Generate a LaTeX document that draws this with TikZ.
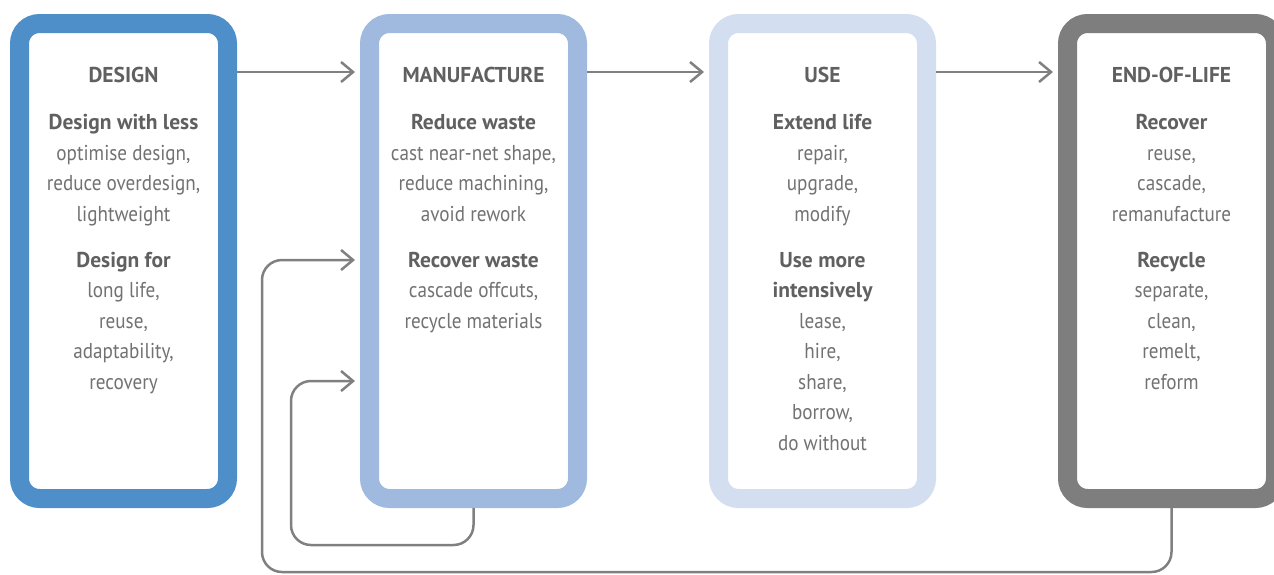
\documentclass[tikz,border=0pt]{standalone}
\usepackage{fontspec}
\setmainfont{PT Sans}
\newfontfamily\bodyf{PT Sans}[FakeStretch=0.89]
\usetikzlibrary{arrows.meta}
\definecolor{cA}{HTML}{4F8FC9}
\definecolor{cB}{HTML}{A0BADF}
\definecolor{cC}{HTML}{D3DFF0}
\definecolor{cD}{HTML}{7E7E7E}
\definecolor{txt}{HTML}{727272}
\definecolor{hd}{HTML}{606060}
\definecolor{ar}{HTML}{808080}
\tikzset{
  stage/.style={draw=#1, line width=19pt, rounded corners=20pt, minimum width=208pt, minimum height=475pt, fill=white, inner sep=0pt},
  label/.style={anchor=north, align=center, text=txt, inner sep=0pt, font=\fontsize{21.5}{30.5}\selectfont\bodyf},
  arr/.style={draw=ar, line width=2.5pt, -{Straight Barb[length=12pt,width=20pt,line width=2.5pt]}},
}
\newcommand{\hdg}[1]{{\normalfont\fontsize{21.5}{30.5}\selectfont\bfseries\color{hd}#1}}
\begin{document}
\begin{tikzpicture}[x=1pt,y=-1pt]
\useasboundingbox (0,0) rectangle (1274,574);
\clip (0,0) rectangle (1274,574);
\node[stage=cA] (d1) at (123.5,261) {};
\node[stage=cB] (d2) at (473.5,261) {};
\node[stage=cC] (d3) at (822.5,261) {};
\node[stage=cD] (d4) at (1171.5,261) {};

\node[label] (t1) at (123.5,67) {\hdg{DESIGN}\\[16.5pt]
\hdg{Design with less}\\ optimise design,\\ reduce overdesign,\\ lightweight\\[15.5pt]
\hdg{Design for}\\ long life,\\ reuse,\\ adaptability,\\ recovery};
\node[label] (t2) at (473.5,67) {\hdg{MANUFACTURE}\\[16.5pt]
\hdg{Reduce waste}\\ cast near-net shape,\\ reduce machining,\\ avoid rework\\[15.5pt]
\hdg{Recover waste}\\ cascade offcuts,\\ recycle materials};
\node[label] (t3) at (822.5,67) {\hdg{USE}\\[16.5pt]
\hdg{Extend life}\\ repair,\\ upgrade,\\ modify\\[15.5pt]
\hdg{Use more}\\ \hdg{intensively}\\ lease,\\ hire,\\ share,\\ borrow,\\ do without};
\node[label] (t4) at (1171.5,67) {\hdg{END-OF-LIFE}\\[16.5pt]
\hdg{Recover}\\ reuse,\\ cascade,\\ remanufacture\\[15.5pt]
\hdg{Recycle}\\ separate,\\ clean,\\ remelt,\\ reform};

\draw[arr] ([yshift=189pt]d1.east) -- ([xshift=-5pt,yshift=189pt]d2.west);
\draw[arr] ([yshift=189pt]d2.east) -- ([xshift=-5pt,yshift=189pt]d3.west);
\draw[arr] ([yshift=189pt]d3.east) -- ([xshift=-5pt,yshift=189pt]d4.west);

\coordinate (lo) at (262,572);
\coordinate (li) at (291,545);
\coordinate (ta) at (355,260);
\coordinate (tb) at (355,381);
\draw[arr, rounded corners=20pt] (d4.south) |- (lo) |- (ta);
\draw[arr, rounded corners=20pt] (d2.south) |- (li) |- (tb);
\end{tikzpicture}
\end{document}
